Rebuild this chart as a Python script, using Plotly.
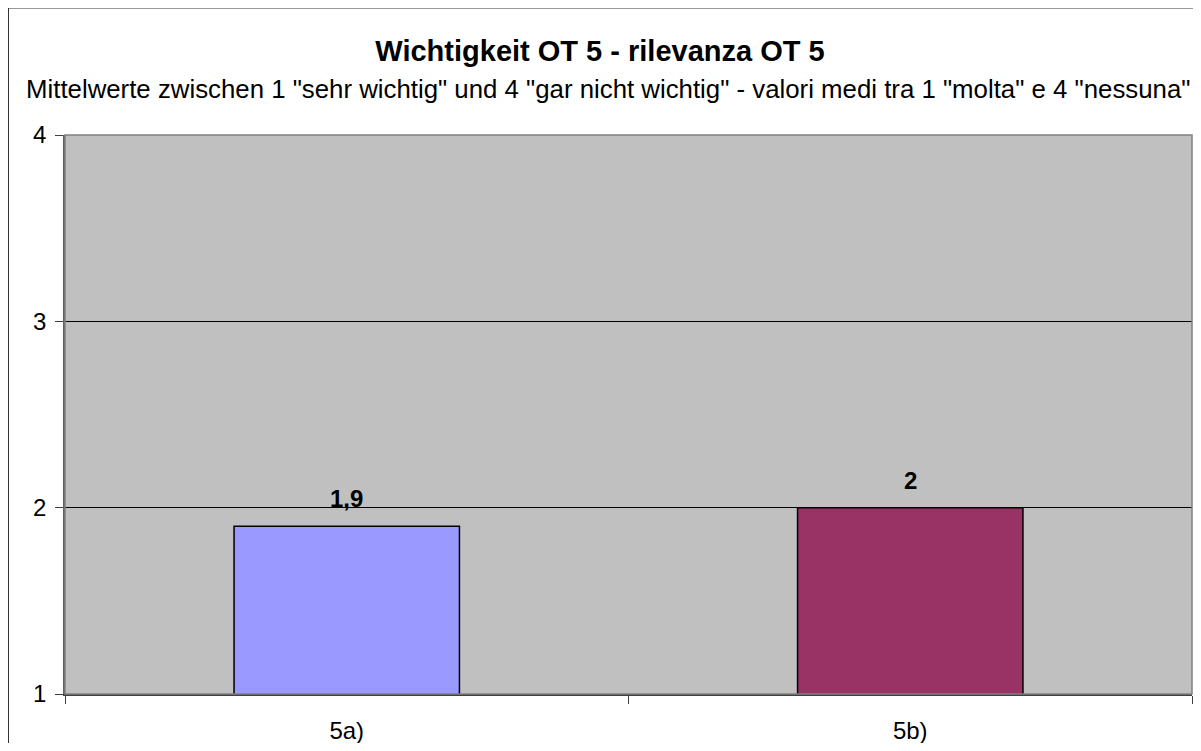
import plotly.graph_objects as go

categories = ["5a)", "5b)"]
values = [1.9, 2.0]
value_labels = ["1,9", "2"]
bar_colors = ["#9999FF", "#993366"]
y_ticks = [1, 2, 3, 4]

title = "<b>Wichtigkeit OT 5 - rilevanza OT 5</b>"
subtitle = 'Mittelwerte zwischen 1 "sehr wichtig" und 4 "gar nicht wichtig" - valori medi tra 1 "molta" e 4 "nessuna"'

FONT = "Liberation Sans, Arial, sans-serif"

fig = go.Figure()
fig.add_trace(go.Bar(
    x=categories, y=values,
    marker=dict(color=bar_colors, line=dict(color="black", width=1.5)),
    hoverinfo="x+y",
))

# figure is placed at (8,8) on the page by the body margin
W, H = 1185, 735
L, R, T, B = 57, 1, 127, 49
pw, ph = W - L - R, H - T - B

annotations = [
    dict(text=f"<b>{lab}</b>", x=c, y=v, xref="x", yref="y", xanchor="center", yanchor="bottom",
         yshift=12, showarrow=False, font=dict(size=24, color="black"))
    for c, v, lab in zip(categories, values, value_labels)
]
annotations.append(dict(text=subtitle, xref="paper", yref="paper",
                        x=(608 - 8 - L) / pw, y=1 + (T - (89 - 8)) / ph,
                        xanchor="center", yanchor="middle",
                        showarrow=False, font=dict(size=25.8, color="black")))

fig.update_layout(
    width=W, height=H,
    margin=dict(l=L, r=R, t=T, b=B, autoexpand=False),
    paper_bgcolor="white", plot_bgcolor="#C0C0C0",
    bargap=0.6,
    showlegend=False,
    font=dict(family=FONT, size=24, color="black"),
    title=dict(text=title, x=(600 - 8) / W, xanchor="center", y=1 - (51 - 8) / H, yanchor="middle",
               font=dict(size=29, color="black")),
    xaxis=dict(type="category", tickson="boundaries", ticks="outside", ticklen=8,
               tickcolor="#404040", showline=True, linecolor="#404040", linewidth=1.5,
               showgrid=False, tickfont=dict(size=24), ticklabelstandoff=14,
               automargin=False),
    yaxis=dict(range=[1, 4], tickvals=y_ticks, ticks="outside", ticklen=8,
               tickcolor="#404040", showline=True, linecolor="#606060", linewidth=1.5,
               showgrid=True, gridcolor="black", gridwidth=1, zeroline=False,
               tickfont=dict(size=24), ticklabelstandoff=4, automargin=False),
    annotations=annotations,
    shapes=[
        dict(type="rect", xref="paper", yref="paper",
             x0=(0 - L) / pw, x1=(W + 20 - L) / pw, y0=-(B + 20) / ph, y1=1 + (T + 0.5) / ph,
             line=dict(color="#333333", width=2), fillcolor="rgba(0,0,0,0)", layer="below"),
        dict(type="rect", xref="paper", yref="paper", x0=0, x1=1, y0=0, y1=1,
             line=dict(color="#808080", width=1.5), fillcolor="rgba(0,0,0,0)"),
    ],
)

fig.write_html("out.html")
